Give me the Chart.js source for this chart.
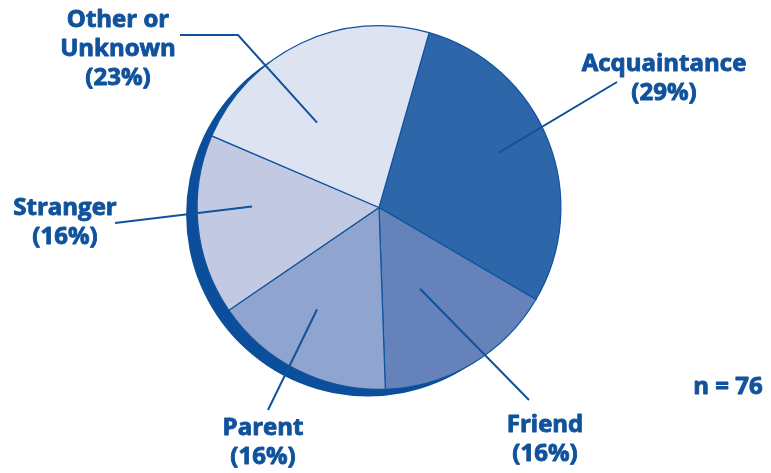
<!DOCTYPE html>
<html lang="en">
<head>
    <meta charset="UTF-8">
    <title>Relationship to victim</title>
    <script src="https://cdn.jsdelivr.net/npm/chart.js@4.4.0/dist/chart.umd.min.js"></script>
    <style>
        html, body { margin: 0; padding: 0; background: #ffffff; }
        #wrap { position: relative; width: 771px; height: 473px; }
    </style>
</head>
<body>
    <div id="wrap"><canvas id="pieChart"></canvas></div>
    <script>
        // slice data (percent of n = 76)
        const categories = ['Acquaintance', 'Friend', 'Parent', 'Stranger', 'Other or Unknown'];
        const percents = [29, 16, 16, 16, 23];
        const sliceColors = ['#2e66aa', '#6682ba', '#8fa4ce', '#c1c9e3', '#dee3f1'];
        const sampleNote = 'n = 76';

        // label text lines and where they sit
        const labelLines = [
            ['Acquaintance', '(29%)'],
            ['Friend', '(16%)'],
            ['Parent', '(16%)'],
            ['Stranger', '(16%)'],
            ['Other or', 'Unknown', '(23%)']
        ];
        const labelPos = [[664, 64], [545, 425], [263, 428], [65, 208], [118, 20]];
        // leader lines: inner end as [angle from top, fraction of radius], outer end(s) in px
        const leaderInner = [[65.4, 0.725], [153.2, 0.50], [211.3, 0.656], [270.5, 0.698], [323.9, 0.578]];
        const leaderOuter = [[[617, 82]], [[529, 400]], [[268, 410]], [[115, 223]], [[238, 35], [180, 35]]];

        const ink = '#10529c';
        const labelFont = 'bold 24px "Open Sans", "DejaVu Sans", sans-serif';

        // dark offset disc behind the pie
        const shadowPlugin = {
            id: 'pieShadow',
            beforeDatasetsDraw(chart) {
                const arc = chart.getDatasetMeta(0).data[0];
                if (!arc) return;
                const ctx = chart.ctx;
                ctx.save();
                ctx.fillStyle = '#0b4e9b';
                ctx.beginPath();
                ctx.arc(arc.x - 11, arc.y + 7, arc.outerRadius, 0, Math.PI * 2);
                ctx.fill();
                ctx.restore();
            }
        };

        // leader lines and the bold labels
        const labelPlugin = {
            id: 'pieLabels',
            afterDatasetsDraw(chart) {
                const arc = chart.getDatasetMeta(0).data[0];
                if (!arc) return;
                const ctx = chart.ctx;
                const cx = arc.x, cy = arc.y, r = arc.outerRadius;
                ctx.save();
                ctx.strokeStyle = ink;
                ctx.lineWidth = 2;
                leaderInner.forEach((p, i) => {
                    const a = p[0] * Math.PI / 180;
                    ctx.beginPath();
                    ctx.moveTo(cx + Math.sin(a) * r * p[1], cy - Math.cos(a) * r * p[1]);
                    leaderOuter[i].forEach(pt => ctx.lineTo(pt[0], pt[1]));
                    ctx.stroke();
                });

                // fill plus a thin stroke to get a heavier face
                ctx.fillStyle = ink;
                ctx.lineWidth = 0.9;
                ctx.lineJoin = 'round';
                ctx.font = labelFont;
                ctx.textAlign = 'center';
                ctx.textBaseline = 'middle';
                const put = (t, x, y) => {
                    ctx.fillText(t, x, y);
                    ctx.strokeText(t, x, y);
                };
                labelLines.forEach((lines, i) => {
                    lines.forEach((t, j) => put(t, labelPos[i][0], labelPos[i][1] + j * 29));
                });
                put(sampleNote, 728, 387);
                ctx.restore();
            }
        };

        new Chart(document.getElementById('pieChart'), {
            type: 'pie',
            data: {
                labels: categories,
                datasets: [{
                    data: percents,
                    backgroundColor: sliceColors,
                    borderColor: '#10539e',
                    borderWidth: 1.2,
                    borderJoinStyle: 'miter'
                }]
            },
            options: {
                responsive: true,
                maintainAspectRatio: false,
                animation: false,
                rotation: 16,
                layout: { padding: { left: 0, right: 13, top: 25, bottom: 83 } },
                plugins: {
                    legend: { display: false },
                    tooltip: { enabled: false }
                }
            },
            plugins: [shadowPlugin, labelPlugin]
        });
    </script>
</body>
</html>
